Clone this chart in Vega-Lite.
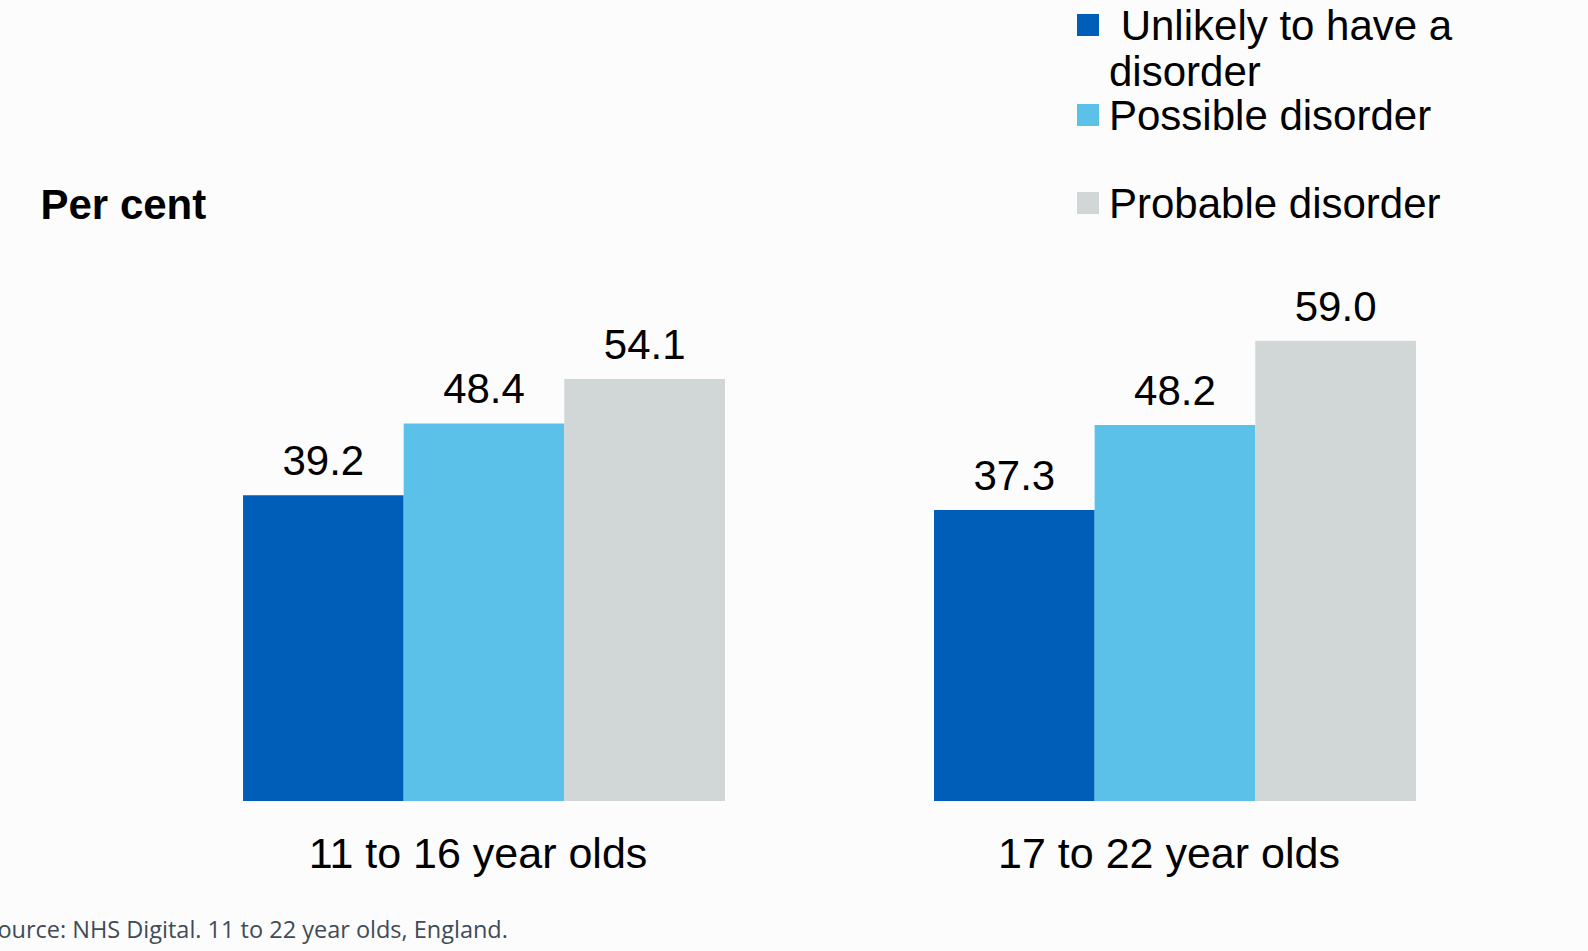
{
  "$schema": "https://vega.github.io/schema/vega-lite/v6.json",
  "autosize": {"type": "none"},
  "padding": {"left": 100, "top": 21, "right": 29, "bottom": 150},
  "width": 1459,
  "height": 780,
  "background": "#fcfcfc",
  "config": {
    "view": {"stroke": null},
    "font": "Liberation Sans"
  },
  "data": {
    "values": [
      {"age": "11 to 16 year olds", "status": "Unlikely to have a disorder", "pct": 39.2},
      {"age": "11 to 16 year olds", "status": "Possible disorder", "pct": 48.4},
      {"age": "11 to 16 year olds", "status": "Probable disorder", "pct": 54.1},
      {"age": "17 to 22 year olds", "status": "Unlikely to have a disorder", "pct": 37.3},
      {"age": "17 to 22 year olds", "status": "Possible disorder", "pct": 48.2},
      {"age": "17 to 22 year olds", "status": "Probable disorder", "pct": 59.0}
    ]
  },
  "encoding": {
    "x": {
      "field": "age",
      "type": "nominal",
      "sort": null,
      "scale": {"paddingInner": 0.3025, "paddingOuter": 0.207},
      "axis": {
        "title": "Source: NHS Digital. 11 to 22 year olds, England.",
        "titleX": -116,
        "titleY": 136,
        "titleAlign": "left",
        "titleBaseline": "alphabetic",
        "titleFont": "Open Sans",
        "titleFontSize": 23.5,
        "titleFontWeight": "normal",
        "titleColor": "#404b57",
        "labelAngle": 0,
        "labelFont": "Liberation Sans",
        "labelFontSize": 43,
        "labelColor": "#000000",
        "labelBaseline": "alphabetic",
        "labelPadding": 66,
        "labelOffset": -6,
        "labelLimit": 0,
        "ticks": false,
        "tickSize": 0,
        "domain": false,
        "grid": false
      }
    },
    "xOffset": {
      "field": "status",
      "type": "nominal",
      "scale": {
        "domain": ["Unlikely to have a disorder", "Possible disorder", "Probable disorder"],
        "paddingInner": 0,
        "paddingOuter": 0
      }
    },
    "y": {
      "field": "pct",
      "type": "quantitative",
      "scale": {"domain": [0, 100], "nice": false},
      "axis": {
        "title": "Per cent",
        "titleAngle": 0,
        "titleAlign": "left",
        "titleBaseline": "alphabetic",
        "titleX": -60,
        "titleY": 197,
        "titleFont": "Liberation Sans",
        "titleFontSize": 42,
        "titleFontWeight": "bold",
        "titleColor": "#000000",
        "labels": false,
        "ticks": false,
        "domain": false,
        "grid": false
      }
    }
  },
  "layer": [
    {
      "mark": {"type": "bar", "strokeWidth": 0},
      "encoding": {
        "color": {
          "field": "status",
          "type": "nominal",
          "scale": {
            "domain": ["Unlikely to have a disorder", "Possible disorder", "Probable disorder"],
            "range": ["#005eb8", "#5cc1e9", "#d1d6d6"]
          },
          "legend": {
            "orient": "none",
            "legendX": 967,
            "legendY": -17,
            "title": null,
            "padding": 0,
            "symbolType": "square",
            "symbolSize": 484,
            "symbolStrokeWidth": 0,
            "symbolOpacity": 1,
            "labelFont": "Liberation Sans",
            "labelFontSize": 42,
            "labelColor": "#000000",
            "labelOffset": 0,
            "labelLimit": 0,
            "labelBaseline": "top",
            "rowPadding": 0,
            "labelExpr": "datum.label == 'Unlikely to have a disorder' ? ['\u200b\u00a0Unlikely to have a', 'disorder'] : [datum.label, '']",
            "encode": {
              "labels": {
                "update": {
                  "dy": {"signal": "datum.value == 'Probable disorder' ? -22 : -18"},
                  "lineHeight": {"value": 46}
                }
              },
              "symbols": {
                "update": {
                  "y": {"signal": "datum.size / 2 - (datum.value == 'Probable disorder' ? 4 : 0)"}
                }
              }
            }
          }
        }
      }
    },
    {
      "mark": {
        "type": "text",
        "baseline": "alphabetic",
        "dy": -20,
        "fontSize": 42,
        "font": "Liberation Sans",
        "color": "#000000"
      },
      "encoding": {
        "text": {"field": "pct", "type": "quantitative", "format": ".1f"}
      }
    }
  ]
}
